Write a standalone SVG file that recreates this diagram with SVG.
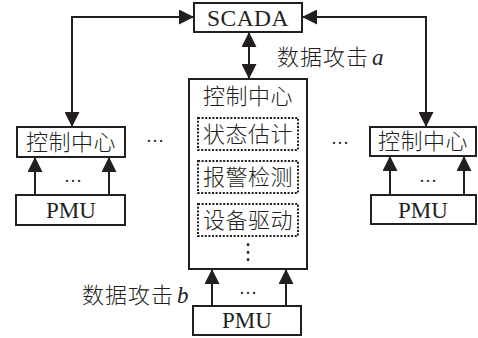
<svg xmlns="http://www.w3.org/2000/svg" width="478" height="338" viewBox="0 0 478 338">
<defs>
<marker id="ah" markerUnits="userSpaceOnUse" markerWidth="16" markerHeight="15" refX="15" refY="7.5" orient="auto-start-reverse" viewBox="0 0 16 15">
<path d="M0,0 L15,7.5 L0,15 z" fill="#231f20"/>
</marker>
<style>
.box{fill:#fff;stroke:#231f20;stroke-width:2}
.dot{fill:none;stroke:#231f20;stroke-width:2;stroke-dasharray:2 1.6}
.cn{font-family:"Noto Sans CJK SC","Noto Sans CJK JP",sans-serif;font-size:22px;font-weight:300;fill:#231f20;text-anchor:middle;letter-spacing:0.5px}
.en{font-family:"Liberation Serif","Times New Roman",serif;font-size:23px;fill:#231f20;text-anchor:middle}
.lbl{font-family:"Noto Sans CJK SC","Noto Sans CJK JP",sans-serif;font-size:22px;font-weight:300;fill:#231f20;letter-spacing:1px}
.it{font-family:"Liberation Serif","Times New Roman",serif;font-style:italic;font-size:23px}
.ell{font-family:"Liberation Serif",serif;font-size:18px;fill:#231f20;text-anchor:middle}
.con{fill:none;stroke:#231f20;stroke-width:2}
</style>
</defs>
<g id="connectors">
<path class="con" d="M194,17 H72 V127" marker-start="url(#ah)" marker-end="url(#ah)"/>
<path class="con" d="M302,17 H426 V127" marker-start="url(#ah)" marker-end="url(#ah)"/>
<path class="con" d="M249,32 V79" marker-start="url(#ah)" marker-end="url(#ah)"/>
<path class="con" d="M35,195 V157" marker-end="url(#ah)"/>
<path class="con" d="M109,195 V157" marker-end="url(#ah)"/>
<path class="con" d="M390,195 V156" marker-end="url(#ah)"/>
<path class="con" d="M464,195 V156" marker-end="url(#ah)"/>
<path class="con" d="M212,306 V269" marker-end="url(#ah)"/>
<path class="con" d="M286,306 V269" marker-end="url(#ah)"/>
</g>
<g id="scada">
<rect class="box" x="194" y="3" width="108" height="29"/>
<text class="en" x="248" y="25.5" style="font-size:23.5px;letter-spacing:0.5px">SCADA</text>
</g>
<g id="center-control">
<rect class="box" x="189" y="79" width="118" height="190"/>
<text class="cn" x="248" y="104">控制中心</text>
<rect class="dot" x="198" y="118" width="100" height="32"/>
<text class="cn" x="248" y="142">状态估计</text>
<rect class="dot" x="198" y="161" width="100" height="32"/>
<text class="cn" x="248" y="185">报警检测</text>
<rect class="dot" x="198" y="204" width="100" height="32"/>
<text class="cn" x="248" y="228">设备驱动</text>
<text x="248" y="259" style="font-family:'DejaVu Sans',sans-serif;font-size:22px;fill:#231f20;text-anchor:middle">⋮</text>
</g>
<g id="left-control">
<rect class="box" x="17" y="127" width="108" height="30"/>
<text class="cn" x="71" y="150">控制中心</text>
</g>
<g id="right-control">
<rect class="box" x="370" y="127" width="106" height="29"/>
<text class="cn" x="423" y="149">控制中心</text>
</g>
<g id="left-pmu">
<rect class="box" x="16" y="195" width="109" height="30"/>
<text class="en" x="71" y="218">PMU</text>
</g>
<g id="right-pmu">
<rect class="box" x="371" y="195" width="105" height="29"/>
<text class="en" x="423" y="218">PMU</text>
</g>
<g id="bottom-pmu">
<rect class="box" x="193" y="306" width="108" height="29"/>
<text class="en" x="247" y="328">PMU</text>
</g>
<g id="labels">
<text class="lbl" x="277" y="65">数据攻击<tspan class="it" dx="3">a</tspan></text>
<text class="lbl" x="82" y="303">数据攻击<tspan class="it" dx="3">b</tspan></text>
<text class="ell" x="155" y="142">…</text>
<text class="ell" x="340" y="144">…</text>
<text class="ell" x="73" y="182">…</text>
<text class="ell" x="428" y="182">…</text>
<text class="ell" x="248" y="294">…</text>
</g>
</svg>
